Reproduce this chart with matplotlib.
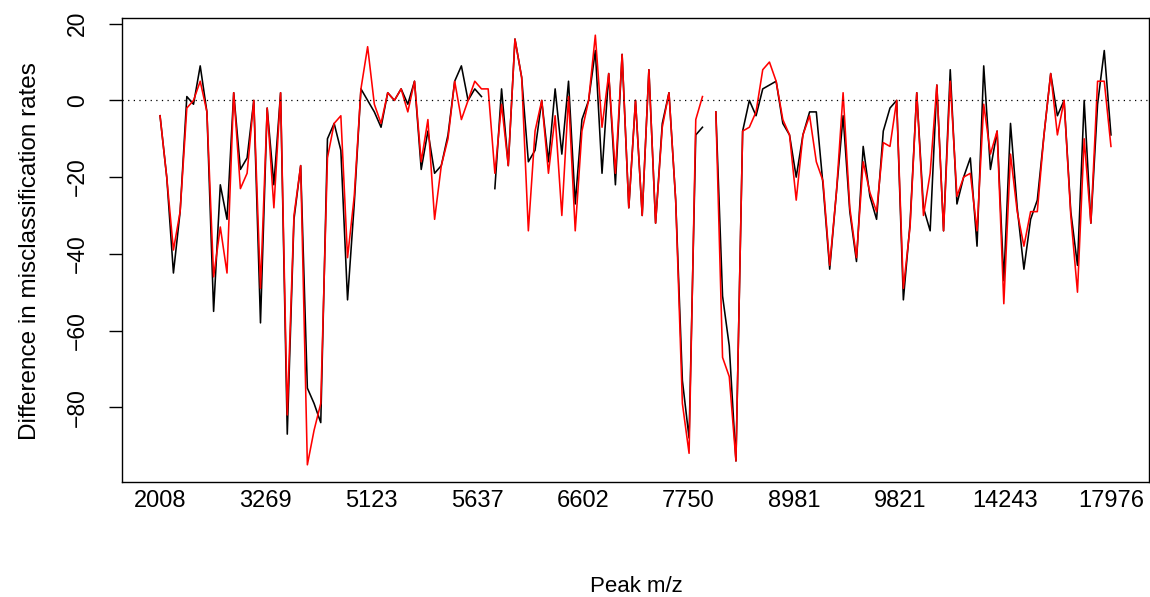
import numpy as np
import matplotlib
matplotlib.use("Agg")
import matplotlib.pyplot as plt

plt.rcParams['font.family'] = ['Liberation Sans', 'DejaVu Sans']

nan = np.nan

# difference in misclassification rates per peak (black and red series)
diff_black = [-4, -20, -45, -29, 1, -1, 9, -3, -55, -22,
              -31, 2, -18, -15, 0, -58, -2, -22, 2, -87,
              -31, -17, -75, -79, -84, -10, -6, -13, -52, -27,
              3, 0, -3, -7, 2, 0, 3, -1, 5, -18,
              -8, -19, -17, -9, 5, 9, 0, 3, 1, nan,
              -23, 3, -17, 16, 6, -16, -13, 0, -16, 3,
              -14, 5, -27, -5, 0, 13, -19, 7, -22, 12,
              -28, 0, -30, 8, -32, -6, 2, -26, -73, -88,
              -9, -7, nan, -3, -51, -64, -94, -8, 0, -4,
              3, 4, 5, -6, -9, -20, -9, -3, -3, -22,
              -44, -24, -4, -29, -42, -12, -25, -31, -8, -2,
              0, -52, -32, 2, -28, -34, 4, -34, 8, -27,
              -20, -15, -38, 9, -18, -8, -47, -6, -28, -44,
              -31, -26, -9, 7, -4, 0, -29, -43, 0, -32,
              -1, 13, -9]

diff_red = [-4, -20, -39, -29, -2, 0, 5, -3, -46, -33,
            -45, 2, -23, -19, 0, -49, -2, -28, 2, -82,
            -30, -17, -95, -86, -79, -15, -6, -4, -41, -25,
            3, 14, -1, -6, 2, 0, 3, -3, 5, -16,
            -5, -31, -17, -10, 5, -5, 0, 5, 3, 3,
            -19, -1, -17, 16, 6, -34, -8, 0, -19, -4,
            -30, 1, -34, -8, 0, 17, -7, 7, -19, 12,
            -28, 0, -30, 8, -32, -7, 2, -26, -79, -92,
            -5, 1, nan, -3, -67, -72, -94, -8, -7, -3,
            8, 10, 5, -5, -9, -26, -9, -4, -16, -21,
            -43, -24, 2, -28, -41, -16, -24, -29, -11, -12,
            0, -49, -33, 2, -30, -19, 4, -34, 5, -25,
            -20, -19, -34, -1, -14, -8, -53, -14, -29, -38,
            -29, -29, -9, 7, -9, 0, -30, -50, -10, -32,
            5, 5, -12]

tick_labels = ['2008', '3269', '5123', '5637', '6602',
               '7750', '8981', '9821', '14243', '17976']

b = np.array(diff_black, dtype=float)
r = np.array(diff_red, dtype=float)
idx = np.arange(len(b))
n = len(b)

fig = plt.figure(figsize=(11.5, 5.97), dpi=100)
ax = fig.add_axes([122 / 1150, 1 - 482 / 597, (1149 - 122) / 1150, (482 - 18) / 597])

ax.plot(idx, b, color='black', lw=1.15)
ax.plot(idx, r, color='red', lw=1.15)
ax.axhline(0, color='black', lw=0.9, linestyle=(0, (1, 3.5)))

# R style 4% padding
x0, x1 = 0, n - 1
ax.set_xlim(x0 - 0.04 * (x1 - x0), x1 + 0.04 * (x1 - x0))
lo = min(np.nanmin(b), np.nanmin(r))
hi = max(np.nanmax(b), np.nanmax(r))
pad = 0.04 * (hi - lo)
ax.set_ylim(lo - pad, hi + pad)

ax.set_xticks(np.linspace(0, n - 1, len(tick_labels)))
ax.set_xticklabels(tick_labels, fontsize=17)
ax.tick_params(axis='x', length=0, pad=6)

ax.set_yticks([-80, -60, -40, -20, 0, 20])
ax.set_yticklabels(['\u221280', '\u221260', '\u221240', '\u221220', '0', '20'],
                   fontsize=16.5, rotation=90, va='center')
ax.tick_params(axis='y', length=9.5, width=1.0, pad=14)

for s in ax.spines.values():
    s.set_linewidth(1.0)

fig.text(30 / 1150, 1 - 251 / 597, 'Difference in misclassification rates',
         rotation=90, ha='center', va='center', fontsize=17.5)
fig.text(636 / 1150, 1 - 587 / 597, 'Peak m/z', ha='center', va='center', fontsize=16)

fig.savefig('out.png', dpi=100)
